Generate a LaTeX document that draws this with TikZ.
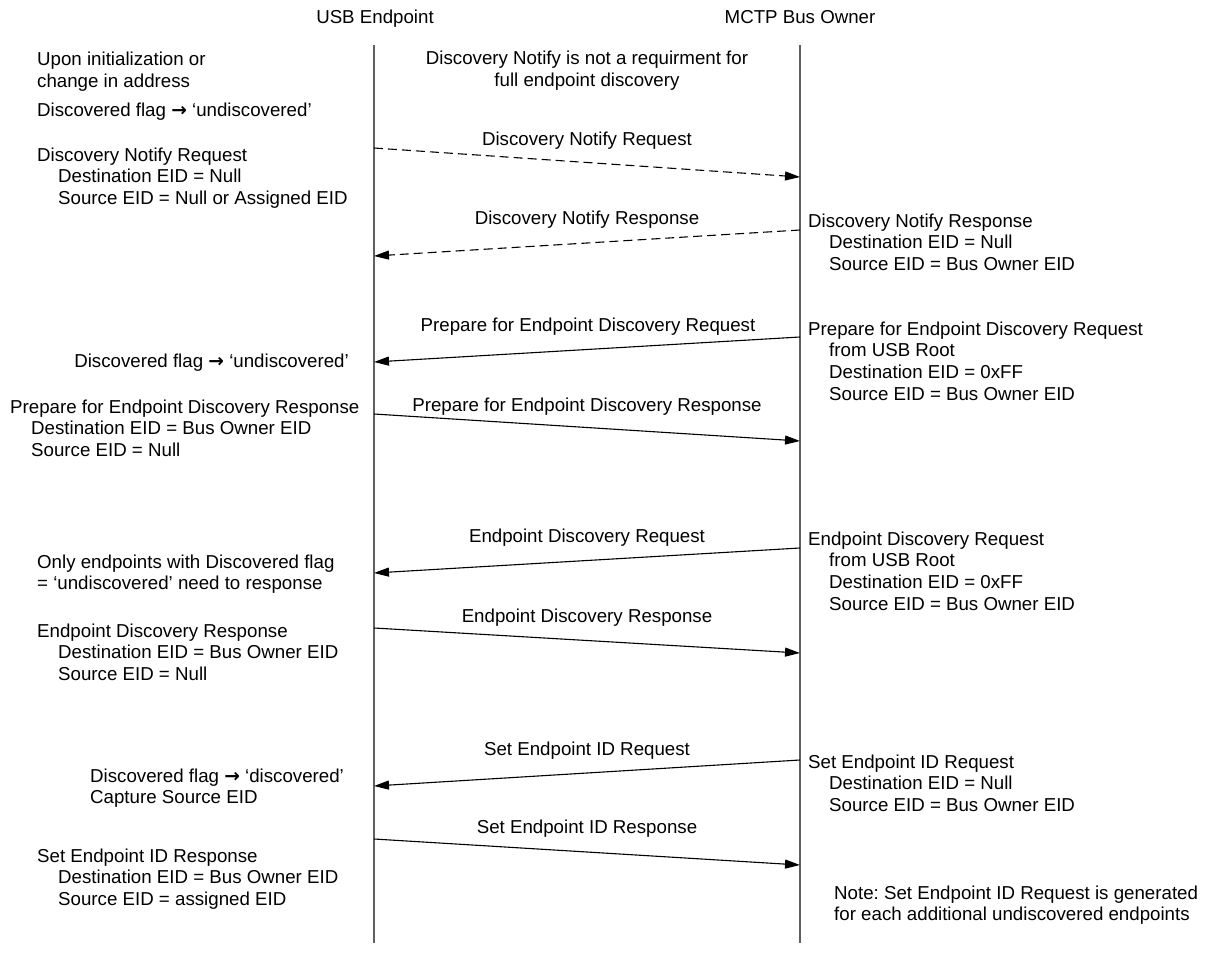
\documentclass[tikz,border=0pt]{standalone}
\usepackage{fontspec}
\setmainfont{Liberation Sans}
\newfontfamily\arrowfont{DejaVu Sans}
\usetikzlibrary{arrows.meta}
\definecolor{lifegray}{RGB}{95,95,95}
\newcommand\mylines[1]{\begin{tabular}[t]{@{}l@{}}#1\end{tabular}}
\newcommand\mycent[1]{\begin{tabular}[t]{@{}c@{}}#1\end{tabular}}
\newcommand\myind{\hspace*{21pt}}
\newcommand\myarr{{\arrowfont\bfseries →}}
\frenchspacing
\begin{document}
\begin{tikzpicture}[x=1pt,y=-1pt,
  font=\fontsize{18.7}{21.9}\selectfont,
  txt/.style={inner sep=0pt, anchor=base west},
  ctxt/.style={inner sep=0pt, anchor=base},
  rtxt/.style={inner sep=0pt, anchor=base east},
  lifeline/.style={draw=lifegray, line width=1.4pt},
  msg/.style={-{Triangle[length=15pt,width=9pt]}, line width=1.1pt, black},
  dmsg/.style={msg, dash pattern=on 9pt off 5pt}]
\useasboundingbox (0,0) rectangle (1206,952);
\fill[white] (0,0) rectangle (1206,952);

% headers
\node[ctxt] (hUSB) at (375,24) {USB Endpoint};
\node[ctxt] (hMCTP) at (800,24) {MCTP Bus Owner};

% lifelines
\coordinate (Ltop) at (374,45);
\coordinate (Lbot) at (374,943);
\coordinate (Rtop) at (800,45);
\coordinate (Rbot) at (800,943);
\draw[lifeline] (Ltop) -- (Lbot);
\draw[lifeline] (Rtop) -- (Rbot);

% left notes
\node[txt] (nInit) at (37,66) {\mylines{Upon initialization or\\change in address}};
\node[txt] (nFlag1) at (37,117) {Discovered flag \myarr{} ‘undiscovered’};
\node[txt] (nDNReq) at (37,161) {\mylines{Discovery Notify Request\\\myind Destination EID = Null\\\myind Source EID = Null or Assigned EID}};
\node[rtxt] (nFlag2) at (349,367) {Discovered flag \myarr{} ‘undiscovered’};
\node[txt] (nPrepResp) at (10,413) {\mylines{Prepare for Endpoint Discovery Response\\\myind Destination EID = Bus Owner EID\\\myind Source EID = Null}};
\node[txt] (nOnly) at (37,568) {\mylines{Only endpoints with Discovered flag\\= ‘undiscovered’ need to response}};
\node[txt] (nEDResp) at (37,637) {\mylines{Endpoint Discovery Response\\\myind Destination EID = Bus Owner EID\\\myind Source EID = Null}};
\node[txt] (nFlag3) at (90,782) {\mylines{Discovered flag \myarr{} ‘discovered’\\Capture Source EID}};
\node[txt] (nSetResp) at (37,862) {\mylines{Set Endpoint ID Response\\\myind Destination EID = Bus Owner EID\\\myind Source EID = assigned EID}};

% middle note
\node[ctxt] (nMid) at (587,65) {\mycent{Discovery Notify is not a requirment for\\full endpoint discovery}};

% right notes
\node[txt] (rDNResp) at (808,227) {\mylines{Discovery Notify Response\\\myind Destination EID = Null\\\myind Source EID = Bus Owner EID}};
\node[txt] (rPrepReq) at (808,335) {\mylines{Prepare for Endpoint Discovery Request\\\myind from USB Root\\\myind Destination EID = 0xFF\\\myind Source EID = Bus Owner EID}};
\node[txt] (rEDReq) at (808,545) {\mylines{Endpoint Discovery Request\\\myind from USB Root\\\myind Destination EID = 0xFF\\\myind Source EID = Bus Owner EID}};
\node[txt] (rSetReq) at (808,768) {\mylines{Set Endpoint ID Request\\\myind Destination EID = Null\\\myind Source EID = Bus Owner EID}};
\node[txt] (rNote) at (834,899) {\mylines{Note: Set Endpoint ID Request is generated\\for each additional undiscovered endpoints}};

% message end points
\coordinate (m1s) at (374,148); \coordinate (m1e) at (800,177);
\coordinate (m2s) at (800,230); \coordinate (m2e) at (374,256);
\coordinate (m3s) at (800,337); \coordinate (m3e) at (374,362);
\coordinate (m4s) at (374,414); \coordinate (m4e) at (800,441);
\coordinate (m5s) at (800,548); \coordinate (m5e) at (374,573);
\coordinate (m6s) at (374,628); \coordinate (m6e) at (800,653);
\coordinate (m7s) at (800,760); \coordinate (m7e) at (374,786);
\coordinate (m8s) at (374,839); \coordinate (m8e) at (800,865);

\draw[dmsg] (m1s) -- (m1e);
\draw[dmsg] (m2s) -- (m2e);
\draw[msg] (m3s) -- (m3e);
\draw[msg] (m4s) -- (m4e);
\draw[msg] (m5s) -- (m5e);
\draw[msg] (m6s) -- (m6e);
\draw[msg] (m7s) -- (m7e);
\draw[msg] (m8s) -- (m8e);

% message labels
\node[ctxt] (l1) at (587,146) {Discovery Notify Request};
\node[ctxt] (l2) at (587,224) {Discovery Notify Response};
\node[ctxt] (l3) at (588,331) {Prepare for Endpoint Discovery Request};
\node[ctxt] (l4) at (587,411) {Prepare for Endpoint Discovery Response};
\node[ctxt] (l5) at (587,542) {Endpoint Discovery Request};
\node[ctxt] (l6) at (587,622) {Endpoint Discovery Response};
\node[ctxt] (l7) at (587,755) {Set Endpoint ID Request};
\node[ctxt] (l8) at (587,833) {Set Endpoint ID Response};
\end{tikzpicture}
\end{document}
